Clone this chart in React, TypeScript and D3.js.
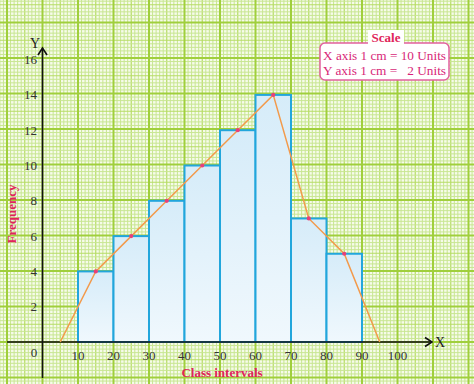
import React from "react";
import * as d3 from "d3";

const classStarts = [10, 20, 30, 40, 50, 60, 70, 80];
const frequencies = [4, 6, 8, 10, 12, 14, 7, 5];
const polygonX = [5, 15, 25, 35, 45, 55, 65, 75, 85, 95];
const polygonY = [0, 4, 6, 8, 10, 12, 14, 7, 5, 0];
const xTicks = [10, 20, 30, 40, 50, 60, 70, 80, 90, 100];
const yTicks = [2, 4, 6, 8, 10, 12, 14, 16];
const classWidth = 10;

const W = 474;
const H = 384;

export default function App() {
  const x = d3.scaleLinear().domain([0, 100]).range([42.5, 397.5]);
  const y = d3.scaleLinear().domain([0, 16]).range([342, 59.6]);
  const mm = (x(10) - x(0)) / 10;

  const vLines: { p: number; k: number }[] = [];
  for (let k = -20; k * mm + x(0) < W + 5; k++) vLines.push({ p: x(0) + k * mm, k });
  const hLines: { p: number; k: number }[] = [];
  for (let k = -20; y(0) - k * mm > -5; k++) hLines.push({ p: y(0) - k * mm, k });

  const style = (k: number) => {
    const m = ((k % 10) + 10) % 10;
    if (m === 0) return { stroke: "#a0cf3c", w: 2 };
    if (m === 5) return { stroke: "#b6dc64", w: 1.2 };
    return { stroke: "#c8e692", w: 1 };
  };

  const line = d3
    .line<number>()
    .x((_, i) => x(polygonX[i]))
    .y((d) => y(d));

  const crimson = "#e0245a";
  const pink = "#d81f78";

  return (
    <div style={{ position: "absolute", left: 0, top: 0 }}>
      <svg width={W} height={H} style={{ display: "block", fontFamily: "'Liberation Serif', 'Times New Roman', serif" }}>
        <defs>
          <linearGradient id="barg" x1="0" y1="0" x2="0" y2="1">
            <stop offset="0" stopColor="#d6ecf9" />
            <stop offset="1" stopColor="#f0f8fd" />
          </linearGradient>
        </defs>
        <rect x={0} y={0} width={W} height={H} fill="#f6fbea" />
        {vLines
          .filter((l) => style(l.k).w < 2)
          .map((l) => (
            <line key={"v" + l.k} x1={l.p} x2={l.p} y1={0} y2={H} stroke={style(l.k).stroke} strokeWidth={style(l.k).w} />
          ))}
        {hLines
          .filter((l) => style(l.k).w < 2)
          .map((l) => (
            <line key={"h" + l.k} y1={l.p} y2={l.p} x1={0} x2={W} stroke={style(l.k).stroke} strokeWidth={style(l.k).w} />
          ))}
        {vLines
          .filter((l) => style(l.k).w >= 2)
          .map((l) => (
            <line key={"V" + l.k} x1={l.p} x2={l.p} y1={0} y2={H} stroke={style(l.k).stroke} strokeWidth={2} />
          ))}
        {hLines
          .filter((l) => style(l.k).w >= 2)
          .map((l) => (
            <line key={"H" + l.k} y1={l.p} y2={l.p} x1={0} x2={W} stroke={style(l.k).stroke} strokeWidth={2} />
          ))}

        {/* bars */}
        {classStarts.map((s, i) => (
          <rect
            key={s}
            x={x(s)}
            y={y(frequencies[i])}
            width={x(s + classWidth) - x(s)}
            height={y(0) - y(frequencies[i])}
            fill="url(#barg)"
            stroke="#22a6dc"
            strokeWidth={2}
          />
        ))}

        {/* axes */}
        <line x1={7} x2={431} y1={y(0)} y2={y(0)} stroke="#111" strokeWidth={1.6} />
        <path d={`M${425},${y(0) - 4.5} L${432},${y(0)} L${425},${y(0) + 4.5}`} fill="none" stroke="#111" strokeWidth={1.6} />
        <line x1={x(0)} x2={x(0)} y1={378} y2={49} stroke="#111" strokeWidth={1.6} />
        <path d={`M${x(0) - 4.5},${55} L${x(0)},${48} L${x(0) + 4.5},${55}`} fill="none" stroke="#111" strokeWidth={1.6} />
        <text x={440} y={347} fontSize={14} fill="#222" textAnchor="middle">X</text>
        <text x={35} y={48} fontSize={14} fill="#222" textAnchor="middle">Y</text>

        {/* polygon */}
        <path d={line(polygonY) || ""} fill="none" stroke="#f39a4b" strokeWidth={1.5} />
        {polygonY.map((v, i) =>
          i === 0 || i === polygonY.length - 1 ? null : (
            <circle key={i} cx={x(polygonX[i])} cy={y(v)} r={2.1} fill="#e8407a" />
          )
        )}

        {/* tick labels */}
        {yTicks.map((t) => (
          <text key={t} x={37} y={y(t) + 4.5} fontSize={13} fill="#333" textAnchor="end">
            {t}
          </text>
        ))}
        <text x={34} y={357} fontSize={13} fill="#333" textAnchor="middle">0</text>
        {xTicks.map((t) => (
          <text key={t} x={x(t)} y={360} fontSize={13} fill="#333" textAnchor="middle">
            {t}
          </text>
        ))}

        <text x={222} y={377} fontSize={13} fontWeight="bold" fill={crimson} textAnchor="middle">
          Class intervals
        </text>
        <text
          transform={`translate(16,${214}) rotate(-90)`}
          fontSize={13}
          fontWeight="bold"
          fill={crimson}
          textAnchor="middle"
        >
          Frequency
        </text>

        {/* scale box */}
        <rect x={320} y={43} width={129} height={37} rx={5} fill="#fff" stroke="#e2609e" strokeWidth={1.5} />
        <rect x={368} y={30} width={36} height={15} fill="#fff" />
        <text x={386} y={42} fontSize={13} fontWeight="bold" fill={crimson} textAnchor="middle">
          Scale
        </text>
        <text x={323} y={60} fontSize={13} fill={pink} textLength={123} lengthAdjust="spacingAndGlyphs">
          X axis 1 cm = 10 Units
        </text>
        <text x={323} y={75} fontSize={13} fill={pink} style={{ whiteSpace: "pre" }} textLength={123} lengthAdjust="spacingAndGlyphs">
          {"Y axis 1 cm =   2 Units"}
        </text>
      </svg>
    </div>
  );
}
